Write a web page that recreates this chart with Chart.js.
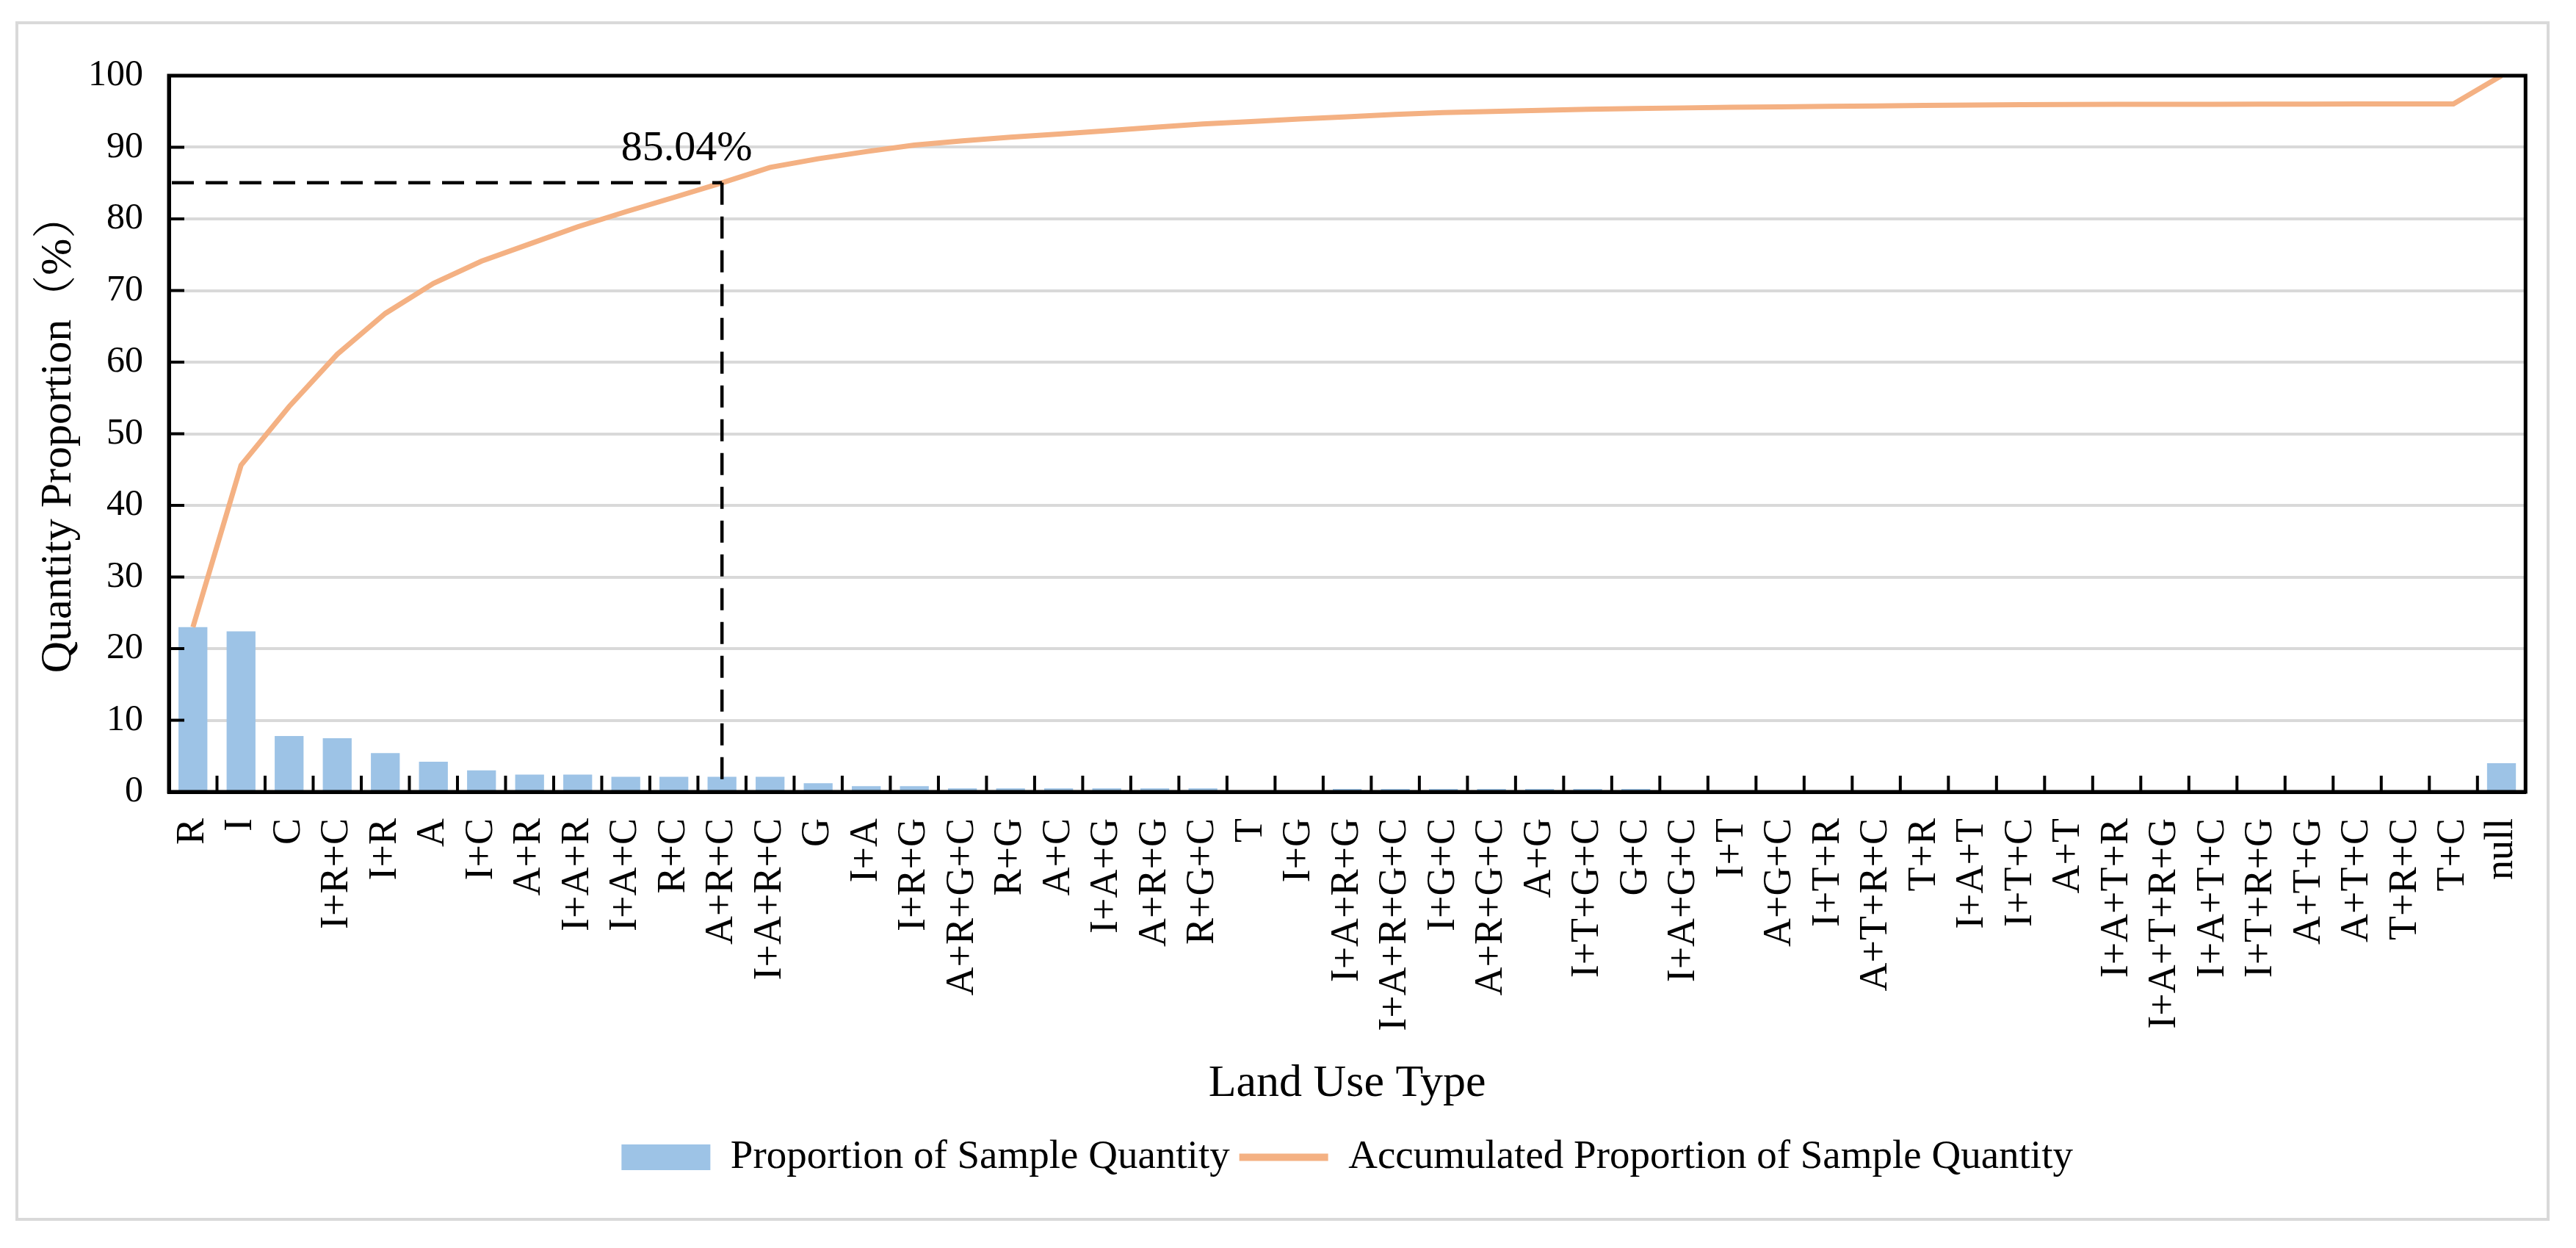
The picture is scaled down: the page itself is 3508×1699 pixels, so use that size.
<!DOCTYPE html>
<html>
<head>
<meta charset="utf-8">
<script src="https://cdn.jsdelivr.net/npm/chart.js@4.4.1/dist/chart.umd.min.js"></script>
<style>
html,body{margin:0;padding:0;background:#fff;}
#wrap{width:3508px;height:1699px;}
</style>
</head>
<body>
<div id="wrap"><canvas id="c" width="3508" height="1699"></canvas></div>
<script>
// ---- data ----
const categories = ['R','I','C','I+R+C','I+R','A','I+C','A+R','I+A+R','I+A+C','R+C','A+R+C','I+A+R+C','G','I+A','I+R+G','A+R+G+C','R+G','A+C','I+A+G','A+R+G','R+G+C','T','I+G','I+A+R+G','I+A+R+G+C','I+G+C','A+R+G+C','A+G','I+T+G+C','G+C','I+A+G+C','I+T','A+G+C','I+T+R','A+T+R+C','T+R','I+A+T','I+T+C','A+T','I+A+T+R','I+A+T+R+G','I+A+T+C','I+T+R+G','A+T+G','A+T+C','T+R+C','T+C','null'];

const sampleProportion = [23.0,22.4,7.8,7.5,5.4,4.2,3.0,2.4,2.4,2.1,2.1,2.1,2.1,1.2,0.8,0.8,0.5,0.5,0.5,0.5,0.5,0.5,0.1,0.1,0.4,0.4,0.4,0.4,0.4,0.4,0.4,0.08,0.08,0.08,0.08,0.08,0.06,0.05,0.04,0.03,0.02,0.02,0.01,0.01,0.01,0.01,0.01,0.01,4.0];

const accumulatedProportion = [23.0,45.6,53.8,61.1,66.8,71.0,74.1,76.5,78.9,81.0,83.0,85.04,87.2,88.4,89.4,90.3,90.9,91.4,91.85,92.3,92.8,93.25,93.6,93.95,94.25,94.6,94.85,95.0,95.15,95.3,95.4,95.5,95.58,95.65,95.72,95.78,95.84,95.9,95.94,95.97,95.99,96.0,96.01,96.02,96.03,96.04,96.05,96.06,100];

const yAxisMin = 0, yAxisMax = 100, yAxisStep = 10;
const markerIndex = 11;          // A+R+C
const markerValue = 85.04;
const markerText = '85.04%';

const seriesNames = ['Proportion of Sample Quantity','Accumulated Proportion of Sample Quantity'];
const xTitle = 'Land Use Type';
const yTitle = 'Quantity Proportion（%）';

// ---- styles ----
const BAR_COLOR = '#9DC3E6';
const LINE_COLOR = '#F4B183';
const FONT = "'Liberation Serif','Times New Roman','Noto Serif CJK SC','Noto Sans CJK SC',serif";

Chart.defaults.font.family = FONT;
Chart.defaults.color = '#000';

const decorPlugin = {
  id: 'decor',
  beforeDraw(chart) {
    const ctx = chart.ctx;
    ctx.save();
    ctx.fillStyle = '#fff';
    ctx.fillRect(0, 0, chart.width, chart.height);
    ctx.strokeStyle = '#d9d9d9';
    ctx.lineWidth = 4;
    ctx.strokeRect(23, 31, 3447, 1629);
    ctx.restore();
  },
  afterDatasetsDraw(chart) {
    const ctx = chart.ctx;
    const a = chart.chartArea;
    const xs = chart.scales.x, ys = chart.scales.y;
    ctx.save();
    // dashed reference lines
    const mx = xs.getPixelForValue(markerIndex);
    const my = ys.getPixelForValue(markerValue);
    ctx.strokeStyle = '#000';
    ctx.lineWidth = 4.5;
    ctx.setLineDash([30, 16]);
    ctx.beginPath();
    ctx.moveTo(a.left + 4, my);
    ctx.lineTo(mx, my);
    ctx.stroke();
    ctx.beginPath();
    ctx.moveTo(mx, my);
    ctx.lineTo(mx, a.bottom);
    ctx.stroke();
    ctx.setLineDash([]);
    // inner ticks
    ctx.lineWidth = 4;
    ctx.beginPath();
    for (let v = yAxisMin + yAxisStep; v < yAxisMax; v += yAxisStep) {
      const y = ys.getPixelForValue(v);
      ctx.moveTo(a.left, y);
      ctx.lineTo(a.left + 21, y);
    }
    for (let i = 1; i < categories.length; i++) {
      const x = (xs.getPixelForValue(i - 1) + xs.getPixelForValue(i)) / 2;
      ctx.moveTo(x, a.bottom);
      ctx.lineTo(x, a.bottom - 22);
    }
    ctx.stroke();
    // frame
    ctx.lineWidth = 5;
    ctx.strokeRect(a.left, a.top, a.right - a.left, a.bottom - a.top);
    // marker label
    ctx.fillStyle = '#000';
    ctx.font = '58px ' + FONT;
    ctx.textAlign = 'center';
    ctx.textBaseline = 'middle';
    ctx.fillText(markerText, mx - 48, my - 46);
    ctx.restore();
  }
};

new Chart(document.getElementById('c'), {
  type: 'bar',
  data: {
    labels: categories,
    datasets: [
      {
        type: 'line',
        label: seriesNames[1],
        data: accumulatedProportion,
        borderColor: LINE_COLOR,
        backgroundColor: LINE_COLOR,
        borderWidth: 7,
        pointRadius: 0,
        tension: 0,
        fill: false,
        order: 0
      },
      {
        type: 'bar',
        label: seriesNames[0],
        data: sampleProportion,
        backgroundColor: BAR_COLOR,
        borderWidth: 0,
        barPercentage: 0.6,
        categoryPercentage: 1.0,
        order: 1
      }
    ]
  },
  options: {
    responsive: false,
    devicePixelRatio: 1,
    animation: false,
    layout: { padding: { top: 103, left: 30, right: 66, bottom: 86 } },
    plugins: {
      tooltip: { enabled: false },
      legend: {
        position: 'bottom',
        fullSize: false,
        labels: {
          font: { size: 55, family: FONT },
          color: '#000',
          usePointStyle: true,
          pointStyleWidth: 121,
          boxHeight: 35,
          padding: 13,
          generateLabels() {
            return [
              { text: seriesNames[0], fillStyle: BAR_COLOR, strokeStyle: BAR_COLOR, lineWidth: 0, pointStyle: 'rect', hidden: false, datasetIndex: 1, fontColor: '#000' },
              { text: seriesNames[1], fillStyle: LINE_COLOR, strokeStyle: LINE_COLOR, lineWidth: 10, pointStyle: 'line', hidden: false, datasetIndex: 0, fontColor: '#000' }
            ];
          }
        }
      }
    },
    scales: {
      x: {
        offset: true,
        grid: { display: false, drawTicks: false },
        border: { display: true, color: '#000', width: 5 },
        ticks: {
          autoSkip: false,
          minRotation: 90,
          maxRotation: 90,
          padding: 36,
          color: '#000',
          font: { size: 54, family: FONT }
        },
        title: {
          display: true,
          text: xTitle,
          color: '#000',
          font: { size: 62, family: FONT },
          padding: { top: 0, bottom: 22 }
        },
        afterFit(scale) { scale.height = 457; }
      },
      y: {
        min: yAxisMin,
        max: yAxisMax,
        grid: { color: '#d9d9d9', lineWidth: 4, drawTicks: false },
        border: { display: true, color: '#000', width: 5 },
        ticks: {
          stepSize: yAxisStep,
          padding: 35,
          color: '#000',
          font: { size: 50, family: FONT }
        },
        title: {
          display: true,
          text: yTitle,
          color: '#000',
          font: { size: 60, family: FONT },
          padding: { top: 14, bottom: 0 }
        },
        afterFit(scale) { scale.width = 200; }
      }
    }
  },
  plugins: [decorPlugin]
});
</script>
</body>
</html>
